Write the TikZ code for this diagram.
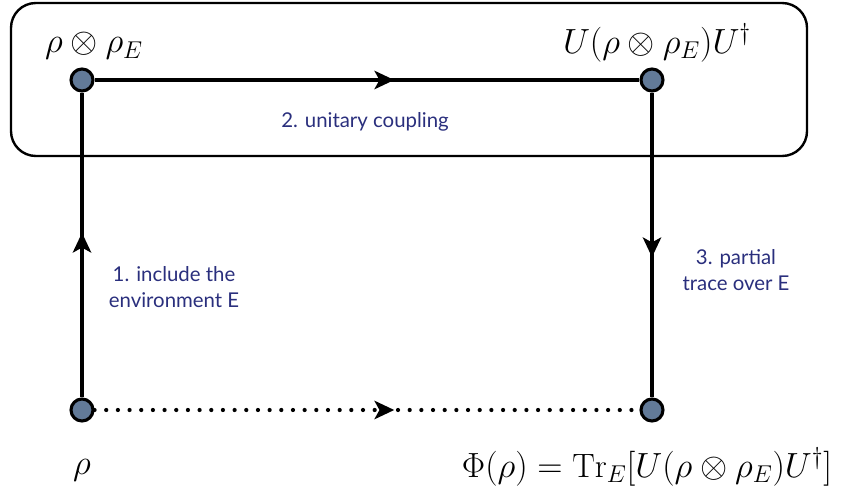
\documentclass[tikz,border=0pt]{standalone}
\usepackage{fontspec}
\newfontfamily\stepfont{Lato}
\definecolor{stepblue}{RGB}{42,47,125}
\definecolor{dotgray}{RGB}{98,122,152}
\usetikzlibrary{arrows.meta,positioning,calc,decorations.markings}

\begin{document}
\begin{tikzpicture}[x=0.025cm, y=-0.025cm,
        state/.style={circle, draw, line width=2.2pt, fill=dotgray, minimum size=0.55cm, inner sep=0pt},
        flow/.style={line width=2.7pt, postaction={decorate},
            decoration={markings, mark=at position #1 with {\arrow{Stealth[length=14pt,width=13pt,inset=3.5pt]}}}},
        flow/.default=0.55,
        dotflow/.style={flow=#1, line width=3pt, dash pattern=on 0pt off 8.3pt, line cap=round},
        steplabel/.style={text=stepblue, font=\stepfont\fontsize{14.5}{18}\selectfont, align=center},
        mathlabel/.style={font=\fontsize{24}{29}\selectfont}]
    \useasboundingbox (0,0) rectangle (845,498);
    % coupled system
    \draw[line width=1.7pt, rounded corners=0.62cm] (11,3) rectangle (807,156);
    % states
    \node[state] (sys) at (82,410) {};
    \node[state] (joint) at (82,80) {};
    \node[state] (evolved) at (652,80) {};
    \node[state] (out) at (652,410) {};
    % steps
    \draw[flow=0.54] (sys) -- (joint);
    \draw[flow=0.55] (joint) -- (evolved);
    \draw[flow=0.54] (evolved) -- (out);
    \draw[dotflow=0.55] (sys) -- (out);
    % labels
    \node[mathlabel] (jointlbl) at (94,46) {$\rho\otimes\rho_E$};
    \node[mathlabel] (evolvedlbl) at (657,43) {$U(\rho\otimes\rho_E)U^\dagger$};
    \node[mathlabel] (syslbl) at (82,470) {$\rho$};
    \node[mathlabel] (outlbl) at (647,467) {$\Phi(\rho)=\mathrm{Tr}_E[U(\rho\otimes\rho_E)U^\dagger]$};
    \node[steplabel] (step1) at (174,287) {1. include the\\environment E};
    \node[steplabel] (step2) at (365,122) {2. unitary coupling};
    \node[steplabel] (step3) at (736,270) {3. partial\\trace over E};
\end{tikzpicture}
\end{document}
